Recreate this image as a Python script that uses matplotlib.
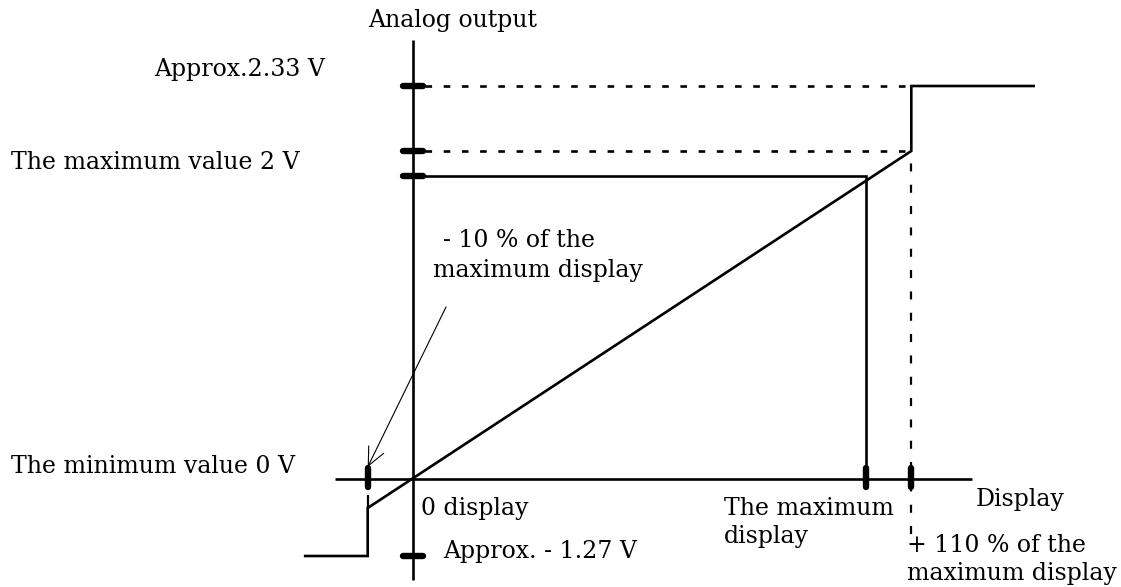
import numpy as np
import matplotlib
matplotlib.use("Agg")
import matplotlib.pyplot as plt

# ---- values of the analog-output characteristic ----
display_pct = [-10, 0, 100, 110]          # key display points (% of maximum display)
full_scale_v = 2.0                         # output at the maximum display
min_out_v = 0.0                            # output at 0 display
clip_high_v = 2.33                         # output above +110 %
clip_low_v = -1.27                         # output below -10 %

y_labels = ["Approx.2.33 V", "The maximum value 2 V", "The minimum value 0 V"]
x_labels = ["0 display", "The maximum\ndisplay", "+ 110 % of the\nmaximum display"]


def ramp(pct):
    return full_scale_v * pct / 100.0


under_v = ramp(display_pct[0])    # -0.2 V
over_v = ramp(display_pct[3])     # 2.2 V

# ---- layout ----
W, H = 1121, 587
ORIGIN_X, ORIGIN_Y = 413, 479     # pixel position of the origin
PX_PER_PCT = 4.53

# schematic (not to scale) vertical placement of the output levels, px above origin
v_breaks = np.array([clip_low_v - 10, clip_low_v, under_v, 0.0, full_scale_v,
                     over_v, clip_high_v, clip_high_v + 10])
p_breaks = np.array([-77 - 1500, -77, -29, 0, 303, 328, 393, 393 + 1500])


def fwd(v):
    return np.interp(v, v_breaks, p_breaks)


def inv(p):
    return np.interp(p, p_breaks, v_breaks)


fig = plt.figure(figsize=(W / 100, H / 100), dpi=100)
ax = fig.add_axes([0, 0, 1, 1])
ax.set_yscale("function", functions=(fwd, inv))
ax.set_xlim(-ORIGIN_X / PX_PER_PCT, (W - ORIGIN_X) / PX_PER_PCT)
ax.set_ylim(inv(ORIGIN_Y - H), inv(ORIGIN_Y))
ax.axis("off")

K = "black"
LW = 1.9
TICK_LW = 4.6
dash = (0, (2.5, 4.4))


def vy(px_above):
    return float(inv(px_above))


# axes
ax.plot([-17.2, 123.4], [0, 0], color=K, lw=LW, solid_capstyle="butt")
ax.plot([0, 0], [vy(-101), vy(439)], color=K, lw=LW, solid_capstyle="butt")

# dashed guides
for lvl in (clip_high_v, over_v):
    ax.plot([2.6, display_pct[3]], [lvl, lvl], color=K, lw=LW, linestyle=dash,
            dash_capstyle="butt")
ax.plot([display_pct[3]] * 2, [over_v, vy(-61)], color=K, lw=1.6,
        linestyle=(4, (3.6, 6.0)), dash_capstyle="butt")
ax.plot([display_pct[0]] * 2, [under_v, vy(-16)], color=K, lw=1.6,
        solid_capstyle="butt")

# maximum-value frame
ax.plot([0, display_pct[2], display_pct[2]], [full_scale_v, full_scale_v, min_out_v],
        color=K, lw=LW, solid_joinstyle="miter")

# output characteristic
cx = [-23.8, display_pct[0], display_pct[0], display_pct[3], display_pct[3], 137.0]
cy = [clip_low_v, clip_low_v, under_v, over_v, clip_high_v, clip_high_v]
ax.plot(cx, cy, color=K, lw=LW, solid_joinstyle="miter")

# y ticks
for lvl in (clip_high_v, over_v, full_scale_v, clip_low_v):
    ax.plot([-2.3, 2.3], [lvl, lvl], color=K, lw=TICK_LW, solid_capstyle="round")
# x ticks
for p in (display_pct[0], display_pct[2], display_pct[3]):
    ax.plot([p, p], [vy(-8), vy(11)], color=K, lw=TICK_LW, solid_capstyle="round")

# pointer to the -10 % mark
ax.annotate("", xy=(display_pct[0], vy(12)), xycoords="data",
            xytext=(446, H - 307), textcoords="figure pixels",
            arrowprops=dict(arrowstyle="->,head_length=1.3,head_width=0.6",
                            mutation_scale=10, lw=0.8, color=K,
                            shrinkA=0, shrinkB=0))

FONT = dict(family="DejaVu Serif", size=17, color=K)


def label(x, y_base, s, ha="left"):
    fig.text(x / W, 1 - y_base / H, s, ha=ha, va="baseline", **FONT)


label(368, 27, "Analog output")
label(240, 76, y_labels[0], ha="center")
label(11, 169, y_labels[1])
label(11, 473, y_labels[2])
label(421, 515, x_labels[0])
label(443, 558, "Approx. - 1.27 V")
l1, l2 = x_labels[1].split("\n")
label(724, 515, l1)
label(724, 543, l2)
label(976, 506, "Display")
l1, l2 = x_labels[2].split("\n")
label(907, 552, l1)
label(907, 580, l2)
label(443, 247, "- 10 % of the")
label(433, 277, "maximum display")

fig.savefig("out.png", dpi=100)
